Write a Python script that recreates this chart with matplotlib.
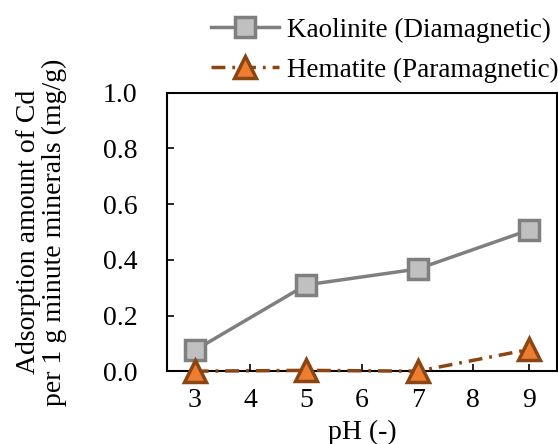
import matplotlib.pyplot as plt

ph = [3, 5, 7, 9]
kaolinite = [0.075, 0.31, 0.367, 0.507]
hematite = [0.0, 0.003, 0.0, 0.078]

plt.rcParams["font.family"] = ["Liberation Serif", "DejaVu Serif"]
plt.rcParams["font.size"] = 20

fig = plt.figure(figsize=(5.58, 4.44), dpi=100)
ax = fig.add_axes([0.299, 0.164, 0.699, 0.627])

ax.plot(ph, kaolinite, color="#7f7f7f", lw=2.5, marker="s", ms=15,
        mfc="#c0c0c0", mec="#7f7f7f", mew=2.5, label="Kaolinite (Diamagnetic)",
        clip_on=False, zorder=3)
ax.plot(ph, hematite, color="#8b4513", lw=2.5, ls=(0, (4, 2, 0.8, 2)), marker="^",
        ms=16, mfc="#ed7d31", mec="#8b4513", mew=2.5,
        label="Hematite (Paramagnetic)", clip_on=False, zorder=4)

ax.set_xlim(2.5, 9.5)
ax.set_ylim(0, 1.0)
ax.set_xticks(range(3, 10))
ax.set_yticks([0, 0.2, 0.4, 0.6, 0.8, 1.0])
ax.set_yticklabels([f"{v:.1f}" for v in [0, 0.2, 0.4, 0.6, 0.8, 1.0]])
ax.tick_params(direction="in", length=5, width=1.2)
ax.tick_params(axis="y", pad=21)
ax.tick_params(axis="x", pad=12)
for s in ax.spines.values():
    s.set_linewidth(1.5)

ax.set_xlabel("pH (-)")
ax.xaxis.set_label_coords(0.5, -0.175)
ax.set_ylabel("Adsorption amount of Cd\nper 1 g minute minerals (mg/g)",
              linespacing=1.05)
ax.yaxis.set_label_coords(-0.255, 0.5)

fig.legend(loc="upper right", bbox_to_anchor=(1.045, 1.015), frameon=False,
           fontsize=19.5, handlelength=2.5, labelspacing=0.55, handletextpad=0.3)

fig.savefig("out.png", dpi=100)
